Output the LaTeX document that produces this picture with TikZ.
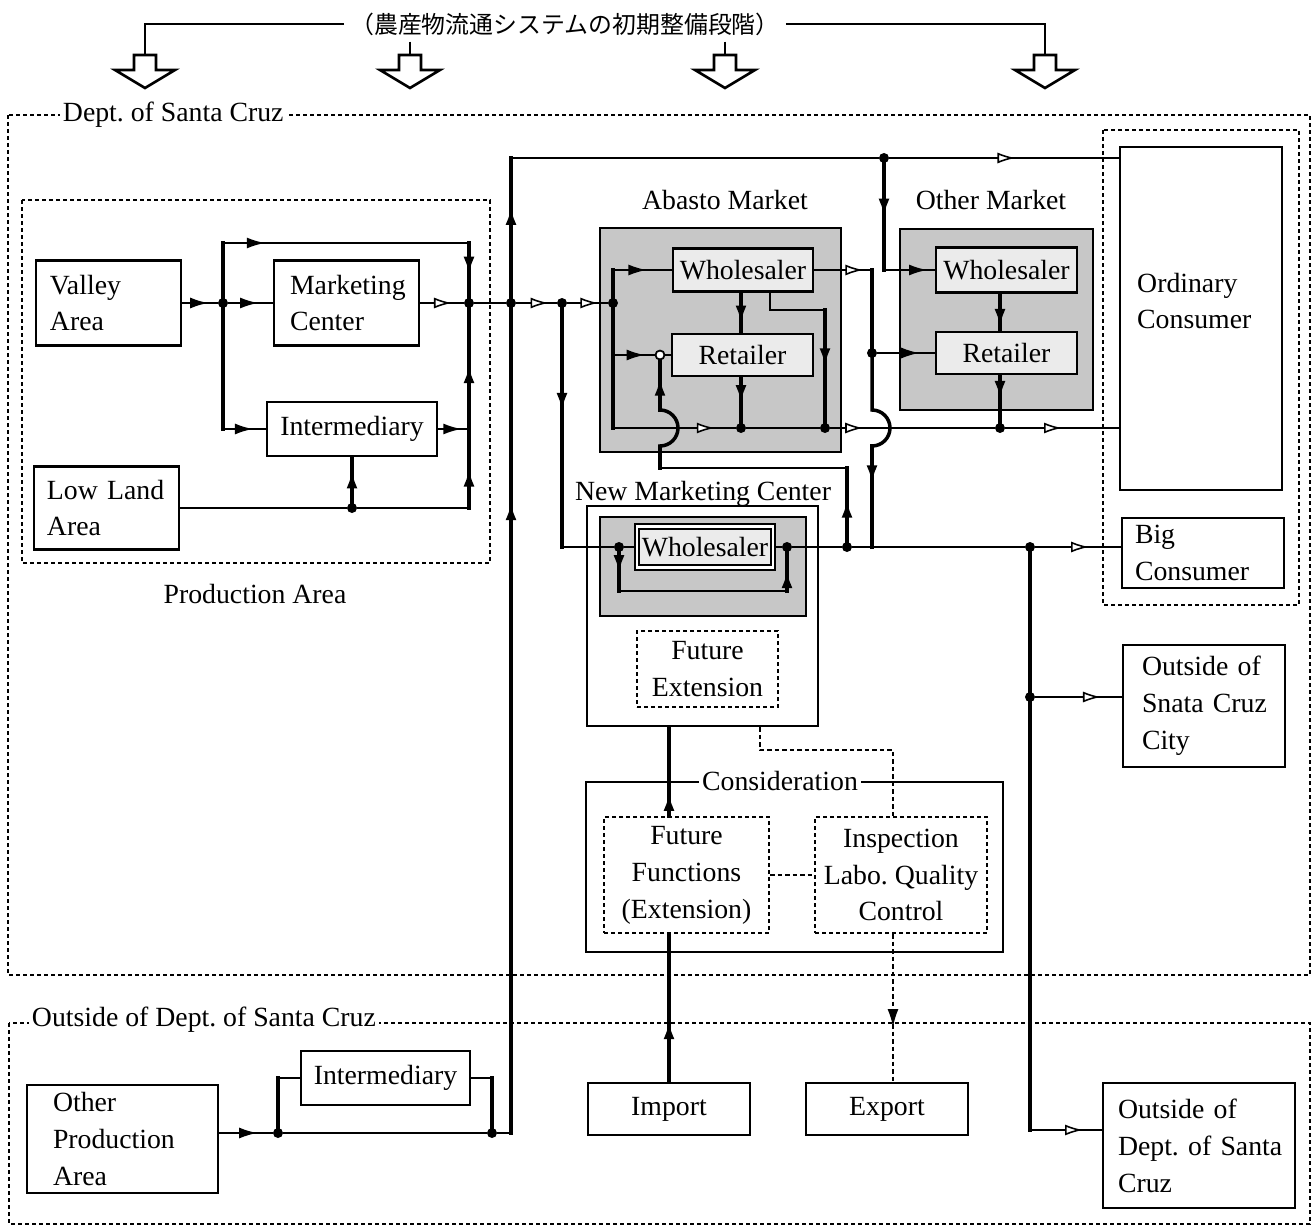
\documentclass[tikz,border=0pt]{standalone}
\usepackage{fontspec}
\setmainfont{Liberation Serif}
\newfontfamily\jpfont{Noto Sans CJK JP}
\usetikzlibrary{arrows.meta, decorations.markings, positioning}
\frenchspacing

\tikzset{
  every node/.style={font=\fontsize{15.8}{21}\selectfont},
  box/.style={draw, line width=1.5pt, inner sep=0pt, align=center, fill=white},
  inbox/.style={box, fill=black!8},
  market/.style={draw, line width=1.5pt, fill=black!22, inner sep=0pt},
  fbox/.style={draw, line width=1.3pt, dash pattern=on 0.8mm off 0.6mm, inner sep=0pt, align=center, fill=white},
  region/.style={draw, line width=1.4pt, dash pattern=on 0.8mm off 0.6mm},
  flow/.style={draw, line width=1pt},
  trunk/.style={draw, line width=2pt, line cap=rect},
  dflow/.style={draw, line width=1.1pt, dash pattern=on 0.9mm off 0.6mm},
  jdot/.style={circle, fill, inner sep=0pt, minimum size=2mm},
  odot/.style={circle, draw, fill=white, line width=1pt, inner sep=0pt, minimum size=1.8mm},
  lbl/.style={fill=white, inner sep=1.5pt},
  farr/.style={postaction={decorate, decoration={markings, mark=at position #1 with {\arrow{Latex[length=3.6mm, width=2.2mm]}}}}},
  oarr/.style={postaction={decorate, decoration={markings, mark=at position #1 with {\arrow{Latex[length=3.6mm, width=2.2mm, fill=white, line width=0.9pt]}}}}},
}

\begin{document}
\begin{tikzpicture}[x=0.2mm, y=-0.2mm]
\useasboundingbox (0,0) rectangle (1316,1227);

% regions
\draw[region] (8,115) rectangle (1310,975);
\draw[region] (22,200) rectangle (490,563);
\draw[region] (1103,130) rectangle (1299,605);
\draw[region] (9,1023) rectangle (1310,1224);
\node[lbl, anchor=west] (deptlbl) at (60,115) {Dept. of Santa Cruz};
\node[lbl, anchor=west] (outlbl) at (29,1020) {Outside of Dept. of Santa Cruz};
\node (prodlbl) at (255,594) {Production Area};

% title and block arrows
\node[font=\jpfont\fontsize{13.6}{15}\selectfont] (title) at (565,24) {（農産物流通システムの初期整備段階）};
\foreach \x [count=\i] in {145,410,725,1045}{
  \coordinate (dn\i) at (\x,55);
  \draw[line width=1.5pt, fill=white] (\x-11,55) -- (\x-11,70) -- (\x-30,70) -- (\x,88)
    -- (\x+30,70) -- (\x+11,70) -- (\x+11,55) -- cycle;
}
\draw[flow] (title.west) -| (dn1);
\draw[flow] (title.east) -| (dn4);
\draw[flow] (title.south -| dn2) -- (dn2);
\draw[flow] (title.south -| dn3) -- (dn3);

% boxes
\node[box, align=left, text width=23.4mm, inner xsep=2.8mm, minimum height=17mm] (valley) at (108.5,303) {Valley\\Area};
\node[box, align=left, text width=22.6mm, inner xsep=3.2mm, minimum height=17mm] (mktc) at (346.5,303) {Marketing\\Center};
\node[box, minimum width=34mm, minimum height=10.8mm] (midman) at (352,429) {Intermediary};
\node[box, align=left, text width=23.8mm, inner xsep=2.6mm, minimum height=16.6mm] (lowland) at (106.5,508) {Low~Land\\Area};

\node[market, minimum width=48.2mm, minimum height=44.8mm] (abasto) at (720.5,340) {};
\node (abastolbl) at (725,200.5) {Abasto Market};
\node[inbox, minimum width=28mm, minimum height=8.6mm] (abws) at (743,270) {Wholesaler};
\node[inbox, minimum width=28.2mm, minimum height=8.4mm] (abrt) at (742.5,355) {Retailer};

\node[market, minimum width=38.6mm, minimum height=36.2mm] (othmkt) at (996.5,319.5) {};
\node (othlbl) at (991,200.5) {Other Market};
\node[inbox, minimum width=28.2mm, minimum height=9mm] (omws) at (1006.5,270) {Wholesaler};
\node[inbox, minimum width=28.2mm, minimum height=8.4mm] (omrt) at (1006.5,353) {Retailer};

\node[box, minimum width=32.4mm, minimum height=68.6mm] (ordcons) at (1201,318.5) {};
\node[align=left, anchor=west] (ordtxt) at (1131,301) {Ordinary\\Consumer};
\node[box, align=left, text width=27.2mm, inner xsep=2.6mm, minimum height=14mm] (bigcons) at (1203,553) {Big\\Consumer};
\node[box, align=left, text width=24.8mm, inner xsep=3.8mm, minimum height=24.4mm] (outcity) at (1204,706) {Outside~of\\Snata~Cruz\\City};

\node[box, minimum width=46.2mm, minimum height=44mm] (nmc) at (702.5,616) {};
\node (nmclbl) at (703,493.5) {New Marketing Center};
\node[market, minimum width=41.2mm, minimum height=19.8mm] (nmcin) at (703,566.5) {};
\node[inbox, double, double distance=0.5mm, line width=1.1pt, minimum width=27.2mm, minimum height=8.2mm] (nmcws) at (705,547) {Wholesaler};
\node[fbox, minimum width=28.2mm, minimum height=15.2mm] (futext) at (707.5,669) {Future\\Extension};

\node[box, minimum width=83.4mm, minimum height=34mm] (consid) at (794.5,867) {};
\node[lbl] (considlbl) at (780,781) {Consideration};
\node[fbox, minimum width=33mm, minimum height=23.2mm] (futfun) at (686.5,875) {Future\\Functions\\(Extension)};
\node[fbox, minimum width=34.4mm, minimum height=23.2mm] (inspect) at (901,875) {Inspection\\Labo. Quality\\Control};

\node[box, align=left, text width=27.8mm, inner xsep=5.2mm, minimum height=21.6mm] (othprod) at (122.5,1139) {Other\\Production\\Area};
\node[box, minimum width=33.8mm, minimum height=10.8mm] (midman2) at (385.5,1078) {Intermediary};
\node[box, minimum width=32.4mm, minimum height=10.4mm] (import) at (669,1109) {Import};
\node[box, minimum width=32.4mm, minimum height=10.4mm] (export) at (887,1109) {Export};
\node[box, align=left, text width=32.4mm, inner xsep=3mm, minimum height=25mm] (outdept) at (1199,1145.5) {Outside~of\\Dept.~of~Santa\\Cruz};

% junctions
\node[jdot] (j1) at (223,303) {};
\node[jdot] (j2) at (469,303) {};
\node[jdot] (d1) at (352,508) {};
\node[jdot] (j3) at (511,303) {};
\node[jdot] (j4) at (562,303) {};
\node[jdot] (j5) at (613,303) {};
\node[jdot] (t1) at (884,158) {};
\node[odot] (c1) at (660,355) {};
\node[jdot] (d2) at (741,428) {};
\node[jdot] (d3) at (825,428) {};
\node[jdot] (d4) at (1000,428) {};
\node[jdot] (d5) at (872,353) {};
\node[jdot] (d7) at (619,547) {};
\node[jdot] (d8) at (787,547) {};
\node[jdot] (d6) at (847,547) {};
\node[jdot] (d9) at (1030,547) {};
\node[jdot] (d10) at (1030,697) {};
\node[jdot] (d11) at (278,1133) {};
\node[jdot] (d12) at (492,1133) {};
\coordinate (j1up) at (223,243);
\coordinate (j2up) at (469,243);
\coordinate (j1dn) at (223,429);
\coordinate (j2mid) at (469,429);
\coordinate (j2dn) at (469,508);
\coordinate (vbot) at (511,1133);
\coordinate (vtop) at (511,158);
\coordinate (ab1) at (613,270);
\coordinate (ab2) at (613,355);
\coordinate (ab3) at (613,428);
\coordinate (ws1) at (770,310);
\coordinate (ws2) at (825,310);
\coordinate (about) at (872,270);
\coordinate (hop2a) at (872,410);
\coordinate (hop2b) at (872,446);
\coordinate (t1dn) at (884,270);
\coordinate (nm1) at (562,547);
\coordinate (nm3) at (872,547);
\coordinate (lp1) at (619,591);
\coordinate (lp2) at (787,591);
\coordinate (up1) at (847,468);
\coordinate (up2) at (660,468);
\coordinate (hop1a) at (660,446);
\coordinate (hop1b) at (660,410);
\coordinate (ob1) at (1030,1130);
\coordinate (dx1) at (760,750);
\coordinate (dx2) at (893,750);
\coordinate (im1) at (278,1078);
\coordinate (im2) at (492,1078);

% production area
\draw[flow, farr=.73] (valley) -- (j1);
\draw[flow, farr=.67] (j1) -- (mktc);
\draw[trunk] (j1) -- (j1up);
\draw[flow, farr=.17] (j1up) -- (j2up);
\draw[trunk, farr=.58] (j2up) -- (j2);
\draw[trunk] (j1) -- (j1dn);
\draw[flow, farr=.7] (j1dn) -- (midman);
\draw[flow, oarr=.73] (mktc) -- (j2);
\draw[flow, farr=.75] (midman) -- (j2mid);
\draw[flow] (lowland) -- (d1);
\draw[flow] (d1) -- (j2dn);
\draw[trunk, farr=.71] (d1) -- (midman);
\draw[trunk, farr=.5] (j2dn) -- (j2mid);
\draw[trunk, farr=.53] (j2mid) -- (j2);

% main flow and trunk line
\draw[flow] (j2) -- (j3);
\draw[flow, oarr=.8] (j3) -- (j4);
\draw[flow, oarr=.77] (j4) -- (j5);
\draw[trunk, farr=.765] (vbot) -- (j3);
\draw[trunk, farr=.65] (j3) -- (vtop);
\draw[flow] (vtop) -- (t1);
\draw[flow, oarr=.55] (t1) -- (t1 -| ordcons.west);

% abasto market
\draw[trunk] (ab1) -- (ab3);
\draw[flow, farr=.57] (ab1) -- (ab1 -| abws.west);
\draw[flow, farr=.76] (ab2) -- (c1);
\draw[flow] (c1) -- (abrt);
\draw[trunk, farr=.77] (abws.south -| d2) -- (abrt.north -| d2);
\draw[trunk, farr=.57] (abrt.south -| d2) -- (d2);
\draw[flow] (abws.south -| ws1) -- (ws1) -- (ws2);
\draw[trunk, farr=.5] (ws2) -- (d3);
\draw[flow, oarr=.83] (ab3) -- (d2);
\draw[flow] (d2) -- (d3);
\draw[flow, oarr=.2] (d3) -- (d4);
\draw[flow, oarr=.5] (d4) -- (d4 -| ordcons.west);
\draw[flow, oarr=.85] (abws.east |- about) -- (about);
\draw[trunk] (about) -- (d5);
\draw[trunk] (d5) -- (hop2a) arc[start angle=-90, end angle=90, radius=18];
\draw[trunk, farr=.37] (hop2b) -- (nm3);

% other market
\draw[trunk, farr=.5] (t1) -- (t1dn);
\draw[flow, farr=.85] (t1dn) -- (omws);
\draw[flow, farr=.73] (d5) -- (omrt);
\draw[trunk, farr=.9] (omws.south -| d4) -- (omrt.north -| d4);
\draw[trunk, farr=.5] (omrt.south -| d4) -- (d4);

% new marketing center
\draw[trunk, farr=.43] (j4) -- (nm1);
\draw[flow] (nm1) -- (d7);
\draw[flow] (d7) -- (nmcws);
\draw[flow] (nmcws) -- (d8);
\draw[flow] (d8) -- (d6);
\draw[flow] (d6) -- (d9);
\draw[flow, oarr=.63] (d9) -- (d9 -| bigcons.west);
\draw[trunk, farr=.54] (d7) -- (lp1);
\draw[flow] (lp1) -- (lp2);
\draw[trunk, farr=.54] (lp2) -- (d8);
\draw[trunk, farr=.57] (d6) -- (up1);
\draw[flow] (up1) -- (up2);
\draw[trunk] (up2) -- (hop1a) arc[start angle=90, end angle=-90, radius=18];
\draw[trunk, farr=.65] (hop1b) -- (c1);

% consumers outside
\draw[trunk] (d9) -- (d10);
\draw[trunk] (d10) -- (ob1);
\draw[flow, oarr=.74] (ob1) -- (ob1 -| outdept.west);
\draw[flow, oarr=.76] (d10) -- (d10 -| outcity.west);

% consideration
\draw[trunk, farr=.41] (import) -- (import |- futfun.south);
\draw[trunk, farr=.26] (import |- futfun.north) -- (import |- nmc.south);
\draw[dflow] (nmc.south -| dx1) -- (dx1) -- (dx2) -- (dx2 |- inspect.north);
\draw[dflow] (futfun) -- (inspect);
\draw[dflow, farr=.63] (dx2 |- inspect.south) -- (dx2 |- export.north);

% outside of dept.
\draw[flow, farr=.71] (othprod.east |- d11) -- (d11);
\draw[flow] (d11) -- (d12);
\draw[flow] (d12) -- (vbot);
\draw[trunk] (d11) -- (im1);
\draw[flow] (im1) -- (midman2);
\draw[flow] (midman2) -- (im2);
\draw[trunk] (im2) -- (d12);
\end{tikzpicture}
\end{document}
